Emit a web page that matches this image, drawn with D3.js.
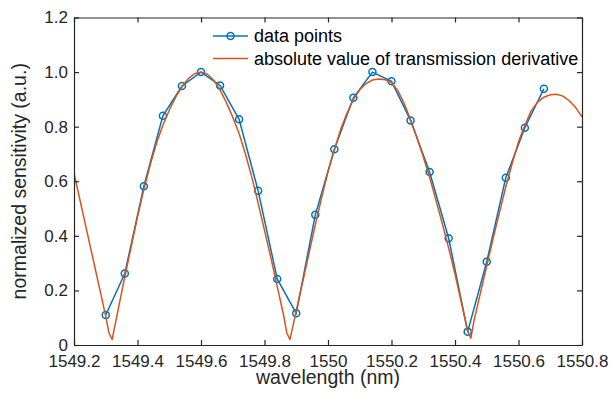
<!DOCTYPE html>
<html>
<head>
<meta charset="utf-8">
<script src="https://cdn.jsdelivr.net/npm/d3@7"></script>
<style>
  html, body { margin: 0; padding: 0; background: #ffffff; }
  svg { display: block; font-family: "Liberation Sans", Arial, Helvetica, sans-serif; }
</style>
</head>
<body>
<script>
// ---- data ----
const dataWavelength = [1549.30, 1549.36, 1549.42, 1549.48, 1549.54, 1549.60, 1549.66, 1549.72,
  1549.78, 1549.84, 1549.90, 1549.96, 1550.02, 1550.08, 1550.14, 1550.20, 1550.26, 1550.32,
  1550.38, 1550.44, 1550.50, 1550.56, 1550.62, 1550.68];
const dataSensitivity = [0.110, 0.262, 0.582, 0.840, 0.949, 1.000, 0.951, 0.827,
  0.565, 0.242, 0.116, 0.477, 0.717, 0.906, 1.000, 0.966, 0.823, 0.634,
  0.391, 0.049, 0.305, 0.613, 0.796, 0.939];

const derivWavelength = [1549.20, 1549.22, 1549.24, 1549.26, 1549.28, 1549.30, 1549.31, 1549.32,
  1549.34, 1549.36, 1549.38, 1549.40, 1549.42, 1549.44, 1549.46, 1549.48, 1549.50, 1549.52,
  1549.54, 1549.56, 1549.58, 1549.60, 1549.62, 1549.64, 1549.66, 1549.68, 1549.70, 1549.72,
  1549.74, 1549.76, 1549.78, 1549.80, 1549.82, 1549.84, 1549.86, 1549.87, 1549.88, 1549.90,
  1549.92, 1549.94, 1549.96, 1549.98, 1550.00, 1550.02, 1550.04, 1550.06, 1550.08, 1550.10,
  1550.12, 1550.14, 1550.16, 1550.18, 1550.20, 1550.22, 1550.24, 1550.26, 1550.28, 1550.30,
  1550.32, 1550.34, 1550.36, 1550.38, 1550.40, 1550.42, 1550.44, 1550.45, 1550.46, 1550.48,
  1550.50, 1550.52, 1550.54, 1550.56, 1550.58, 1550.60, 1550.62, 1550.64, 1550.66, 1550.68,
  1550.70, 1550.72, 1550.74, 1550.76, 1550.78, 1550.80];
const derivValue = [0.630, 0.525, 0.420, 0.315, 0.210, 0.105, 0.045, 0.020,
  0.135, 0.250, 0.360, 0.470, 0.570, 0.660, 0.740, 0.805, 0.860, 0.908,
  0.946, 0.976, 0.994, 1.000, 0.992, 0.970, 0.935, 0.888, 0.835, 0.775,
  0.700, 0.615, 0.520, 0.420, 0.320, 0.215, 0.110, 0.045, 0.020, 0.125,
  0.230, 0.335, 0.440, 0.540, 0.635, 0.715, 0.790, 0.850, 0.900, 0.935,
  0.958, 0.971, 0.975, 0.972, 0.962, 0.932, 0.885, 0.825, 0.760, 0.690,
  0.615, 0.530, 0.445, 0.355, 0.260, 0.155, 0.050, 0.025, 0.090, 0.190,
  0.290, 0.390, 0.485, 0.580, 0.665, 0.745, 0.805, 0.858, 0.890, 0.908,
  0.917, 0.919, 0.912, 0.895, 0.870, 0.836];

const xTickValues = [1549.2, 1549.4, 1549.6, 1549.8, 1550.0, 1550.2, 1550.4, 1550.6, 1550.8];
const xTickLabels = ["1549.2", "1549.4", "1549.6", "1549.8", "1550", "1550.2", "1550.4", "1550.6", "1550.8"];
const yTickValues = [0, 0.2, 0.4, 0.6, 0.8, 1.0, 1.2];
const yTickLabels = ["0", "0.2", "0.4", "0.6", "0.8", "1.0", "1.2"];
const legendLabels = ["data points", "absolute value of transmission derivative"];
const xTitle = "wavelength (nm)";
const yTitle = "normalized sensitivity (a.u.)";

// ---- layout ----
const W = 613, H = 395;
const L = 74, R = 582, T = 17.5, B = 345;
const blue = "#0072BD", red = "#D95319", axisCol = "#262626";

const svg = d3.select("body").append("svg").attr("width", W).attr("height", H);
svg.append("rect").attr("width", W).attr("height", H).attr("fill", "#fff");

const x = d3.scaleLinear().domain([1549.2, 1550.8]).range([L, R]);
const y = d3.scaleLinear().domain([0, 1.2]).range([B, T]);

svg.append("defs").append("clipPath").attr("id", "clip")
  .append("rect").attr("x", L).attr("y", T).attr("width", R - L).attr("height", B - T);

// ---- series ----
const deriv = derivWavelength.map((w, i) => [w, derivValue[i]]);
const pts = dataWavelength.map((w, i) => [w, dataSensitivity[i]]);
const line = d3.line().x(d => x(d[0])).y(d => y(d[1]));

const g = svg.append("g").attr("clip-path", "url(#clip)");
g.append("path").datum(pts).attr("d", line)
  .attr("fill", "none").attr("stroke", blue).attr("stroke-width", 1.5);
g.selectAll("circle.pt").data(pts).enter().append("circle").attr("class", "pt")
  .attr("cx", d => x(d[0])).attr("cy", d => y(d[1])).attr("r", 3.5)
  .attr("fill", "none").attr("stroke", blue).attr("stroke-width", 1.5);
g.append("path").datum(deriv).attr("d", line)
  .attr("fill", "none").attr("stroke", red).attr("stroke-width", 1.5).attr("stroke-linejoin", "round");

// ---- axes ----
function styleAxis(sel) {
  sel.select(".domain").attr("stroke", axisCol).attr("stroke-width", 1.2);
  sel.selectAll(".tick line").attr("stroke", axisCol).attr("stroke-width", 1.2);
  sel.selectAll(".tick text").attr("fill", axisCol);
}
const xb = svg.append("g").attr("transform", `translate(0,${B})`)
  .call(d3.axisBottom(x).tickValues(xTickValues).tickFormat((d, i) => xTickLabels[i])
    .tickSizeInner(-5).tickSizeOuter(0).tickPadding(9.5));
xb.attr("font-size", 17).attr("font-family", null);
styleAxis(xb);
const xt = svg.append("g").attr("transform", `translate(0,${T})`)
  .call(d3.axisTop(x).tickValues(xTickValues).tickFormat("").tickSizeInner(-5).tickSizeOuter(0));
styleAxis(xt);
const yl = svg.append("g").attr("transform", `translate(${L},0)`)
  .call(d3.axisLeft(y).tickValues(yTickValues).tickFormat((d, i) => yTickLabels[i])
    .tickSizeInner(-5).tickSizeOuter(0).tickPadding(6));
yl.attr("font-size", 17).attr("font-family", null);
styleAxis(yl);
const yr = svg.append("g").attr("transform", `translate(${R},0)`)
  .call(d3.axisRight(y).tickValues(yTickValues).tickFormat("").tickSizeInner(-5).tickSizeOuter(0));
styleAxis(yr);

// ---- titles ----
svg.append("text").attr("x", (L + R) / 2).attr("y", 384).attr("text-anchor", "middle")
  .attr("font-size", 19.5).attr("fill", axisCol).text(xTitle);
svg.append("text").attr("transform", `translate(26,${(T + B) / 2}) rotate(-90)`)
  .attr("text-anchor", "middle").attr("font-size", 19.5).attr("fill", axisCol).text(yTitle);

// ---- legend ----
const lg = svg.append("g");
const rows = [{ y: 36, color: blue, marker: true }, { y: 58.5, color: red, marker: false }];
rows.forEach((r, i) => {
  lg.append("line").attr("x1", 213).attr("x2", 248).attr("y1", r.y).attr("y2", r.y)
    .attr("stroke", r.color).attr("stroke-width", 1.5);
  if (r.marker) lg.append("circle").attr("cx", 230.5).attr("cy", r.y).attr("r", 3.5)
    .attr("fill", "none").attr("stroke", r.color).attr("stroke-width", 1.5);
  lg.append("text").attr("x", 254).attr("y", r.y).attr("dy", "0.35em")
    .attr("font-size", 18).attr("fill", "#000").text(legendLabels[i]);
});
</script>
</body>
</html>
